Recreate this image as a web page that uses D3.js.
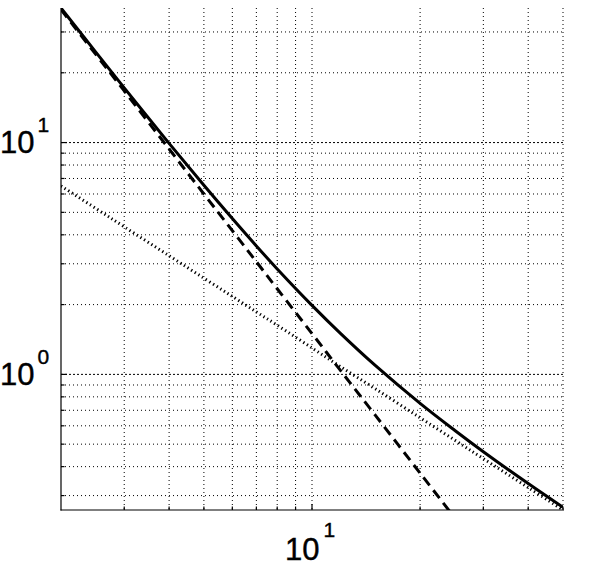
<!DOCTYPE html>
<html>
<head>
<meta charset="utf-8">
<script src="https://cdn.jsdelivr.net/npm/d3@7"></script>
<style>
  html, body { margin: 0; padding: 0; background: #fff; }
  svg { display: block; }
  text { font-family: "Liberation Sans", Arial, Helvetica, sans-serif; fill: #000; stroke: #000; stroke-width: 0.4px; }
</style>
</head>
<body>
<svg id="chart" width="594" height="567"></svg>
<script>
// ---- data ----
const xValues      = [2, 2.5, 3, 4, 5, 6, 7, 8, 10, 12, 15, 20, 25, 30, 40, 50];
const solidValues  = [38.06, 24.56, 17.22, 9.92, 6.54, 4.70, 3.58, 2.85, 1.985, 1.503, 1.093, 0.750, 0.573, 0.464, 0.338, 0.267];
const dashedValues = [37.5, 24.0, 16.7, 9.38, 6.0, 4.17, 3.06, 2.34, 1.5, 1.04, 0.667, 0.375, 0.24, null, null, null];
const dottedValues = [6.5, 5.2, 4.33, 3.25, 2.6, 2.17, 1.86, 1.63, 1.3, 1.08, 0.867, 0.65, 0.52, 0.433, 0.325, 0.26];
const xDomain = [2, 50];
const yDomain = [0.26, 38.06];
const xMajorTicks = [10];
const xMinorTicks = [3, 4, 5, 6, 7, 8, 9, 20, 30, 40, 50];
const yMajorTicks = [1, 10];
const yMinorTicks = [0.3, 0.4, 0.5, 0.6, 0.7, 0.8, 0.9, 2, 3, 4, 5, 6, 7, 8, 9, 20, 30];
const xTickLabels = [{v: 10, base: "10", exp: "1"}];
const yTickLabels = [{v: 1, base: "10", exp: "0"}, {v: 10, base: "10", exp: "1"}];

// ---- layout ----
const L = 61, R = 563, T = 8, B = 510;
const svg = d3.select("#chart");
const x = d3.scaleLog().domain(xDomain).range([L, R]);
const y = d3.scaleLog().domain(yDomain).range([B, T]);

svg.append("defs").append("clipPath").attr("id", "clip")
  .append("rect").attr("x", L).attr("y", T).attr("width", R - L).attr("height", B - T);

// grid
const grid = svg.append("g").attr("stroke", "#000").attr("stroke-width", 1);
xMinorTicks.concat(xMajorTicks).forEach(v => grid.append("line")
  .attr("x1", x(v)).attr("x2", x(v)).attr("y1", T).attr("y2", B)
  .attr("stroke-dasharray", "1,3"));
yMinorTicks.forEach(v => grid.append("line")
  .attr("x1", L).attr("x2", R).attr("y1", y(v)).attr("y2", y(v))
  .attr("stroke-dasharray", "1,3"));
yMajorTicks.forEach(v => grid.append("line")
  .attr("x1", L).attr("x2", R).attr("y1", y(v)).attr("y2", y(v))
  .attr("stroke-dasharray", "2,2"));

// axes lines and ticks (inward)
const ax = svg.append("g").attr("stroke", "#000").attr("stroke-width", 1.2);
ax.append("line").attr("x1", L).attr("x2", L).attr("y1", T).attr("y2", B + 0.5);
ax.append("line").attr("x1", L - 0.5).attr("x2", R + 1).attr("y1", B).attr("y2", B);
xMinorTicks.forEach(v => ax.append("line").attr("x1", x(v)).attr("x2", x(v)).attr("y1", B).attr("y2", B - 3.5));
xMajorTicks.forEach(v => ax.append("line").attr("x1", x(v)).attr("x2", x(v)).attr("y1", B).attr("y2", B - 6));
yMinorTicks.forEach(v => ax.append("line").attr("x1", L).attr("x2", L + 3.5).attr("y1", y(v)).attr("y2", y(v)));
yMajorTicks.forEach(v => ax.append("line").attr("x1", L).attr("x2", L + 6).attr("y1", y(v)).attr("y2", y(v)));

// tick labels
yTickLabels.forEach(d => {
  const t = svg.append("text").attr("x", 0).attr("y", y(d.v) + 10.5)
    .attr("text-anchor", "start").attr("font-size", 31);
  t.append("tspan").text(d.base);
  t.append("tspan").attr("dx", 3).attr("dy", -21).attr("font-size", 21).text(d.exp);
});
xTickLabels.forEach(d => {
  const t = svg.append("text").attr("x", x(d.v) - 27).attr("y", 560)
    .attr("text-anchor", "start").attr("font-size", 31);
  t.append("tspan").text(d.base);
  t.append("tspan").attr("dx", 4).attr("dy", -23).attr("font-size", 21).text(d.exp);
});

// series
const plot = svg.append("g").attr("clip-path", "url(#clip)");
function mkLine(vals) {
  return d3.line()
    .defined((d, i) => vals[i] != null)
    .x((d, i) => x(xValues[i]))
    .y((d, i) => y(vals[i]))
    .curve(d3.curveCatmullRom.alpha(0.5))(xValues);
}
plot.append("path").attr("d", mkLine(dottedValues))
  .attr("fill", "none").attr("stroke", "#000").attr("stroke-width", 3)
  .attr("stroke-dasharray", "1.3,3");
plot.append("path").attr("d", mkLine(dashedValues))
  .attr("fill", "none").attr("stroke", "#000").attr("stroke-width", 3)
  .attr("stroke-dasharray", "10,6");
plot.append("path").attr("d", mkLine(solidValues))
  .attr("fill", "none").attr("stroke", "#000").attr("stroke-width", 3);
</script>
</body>
</html>
